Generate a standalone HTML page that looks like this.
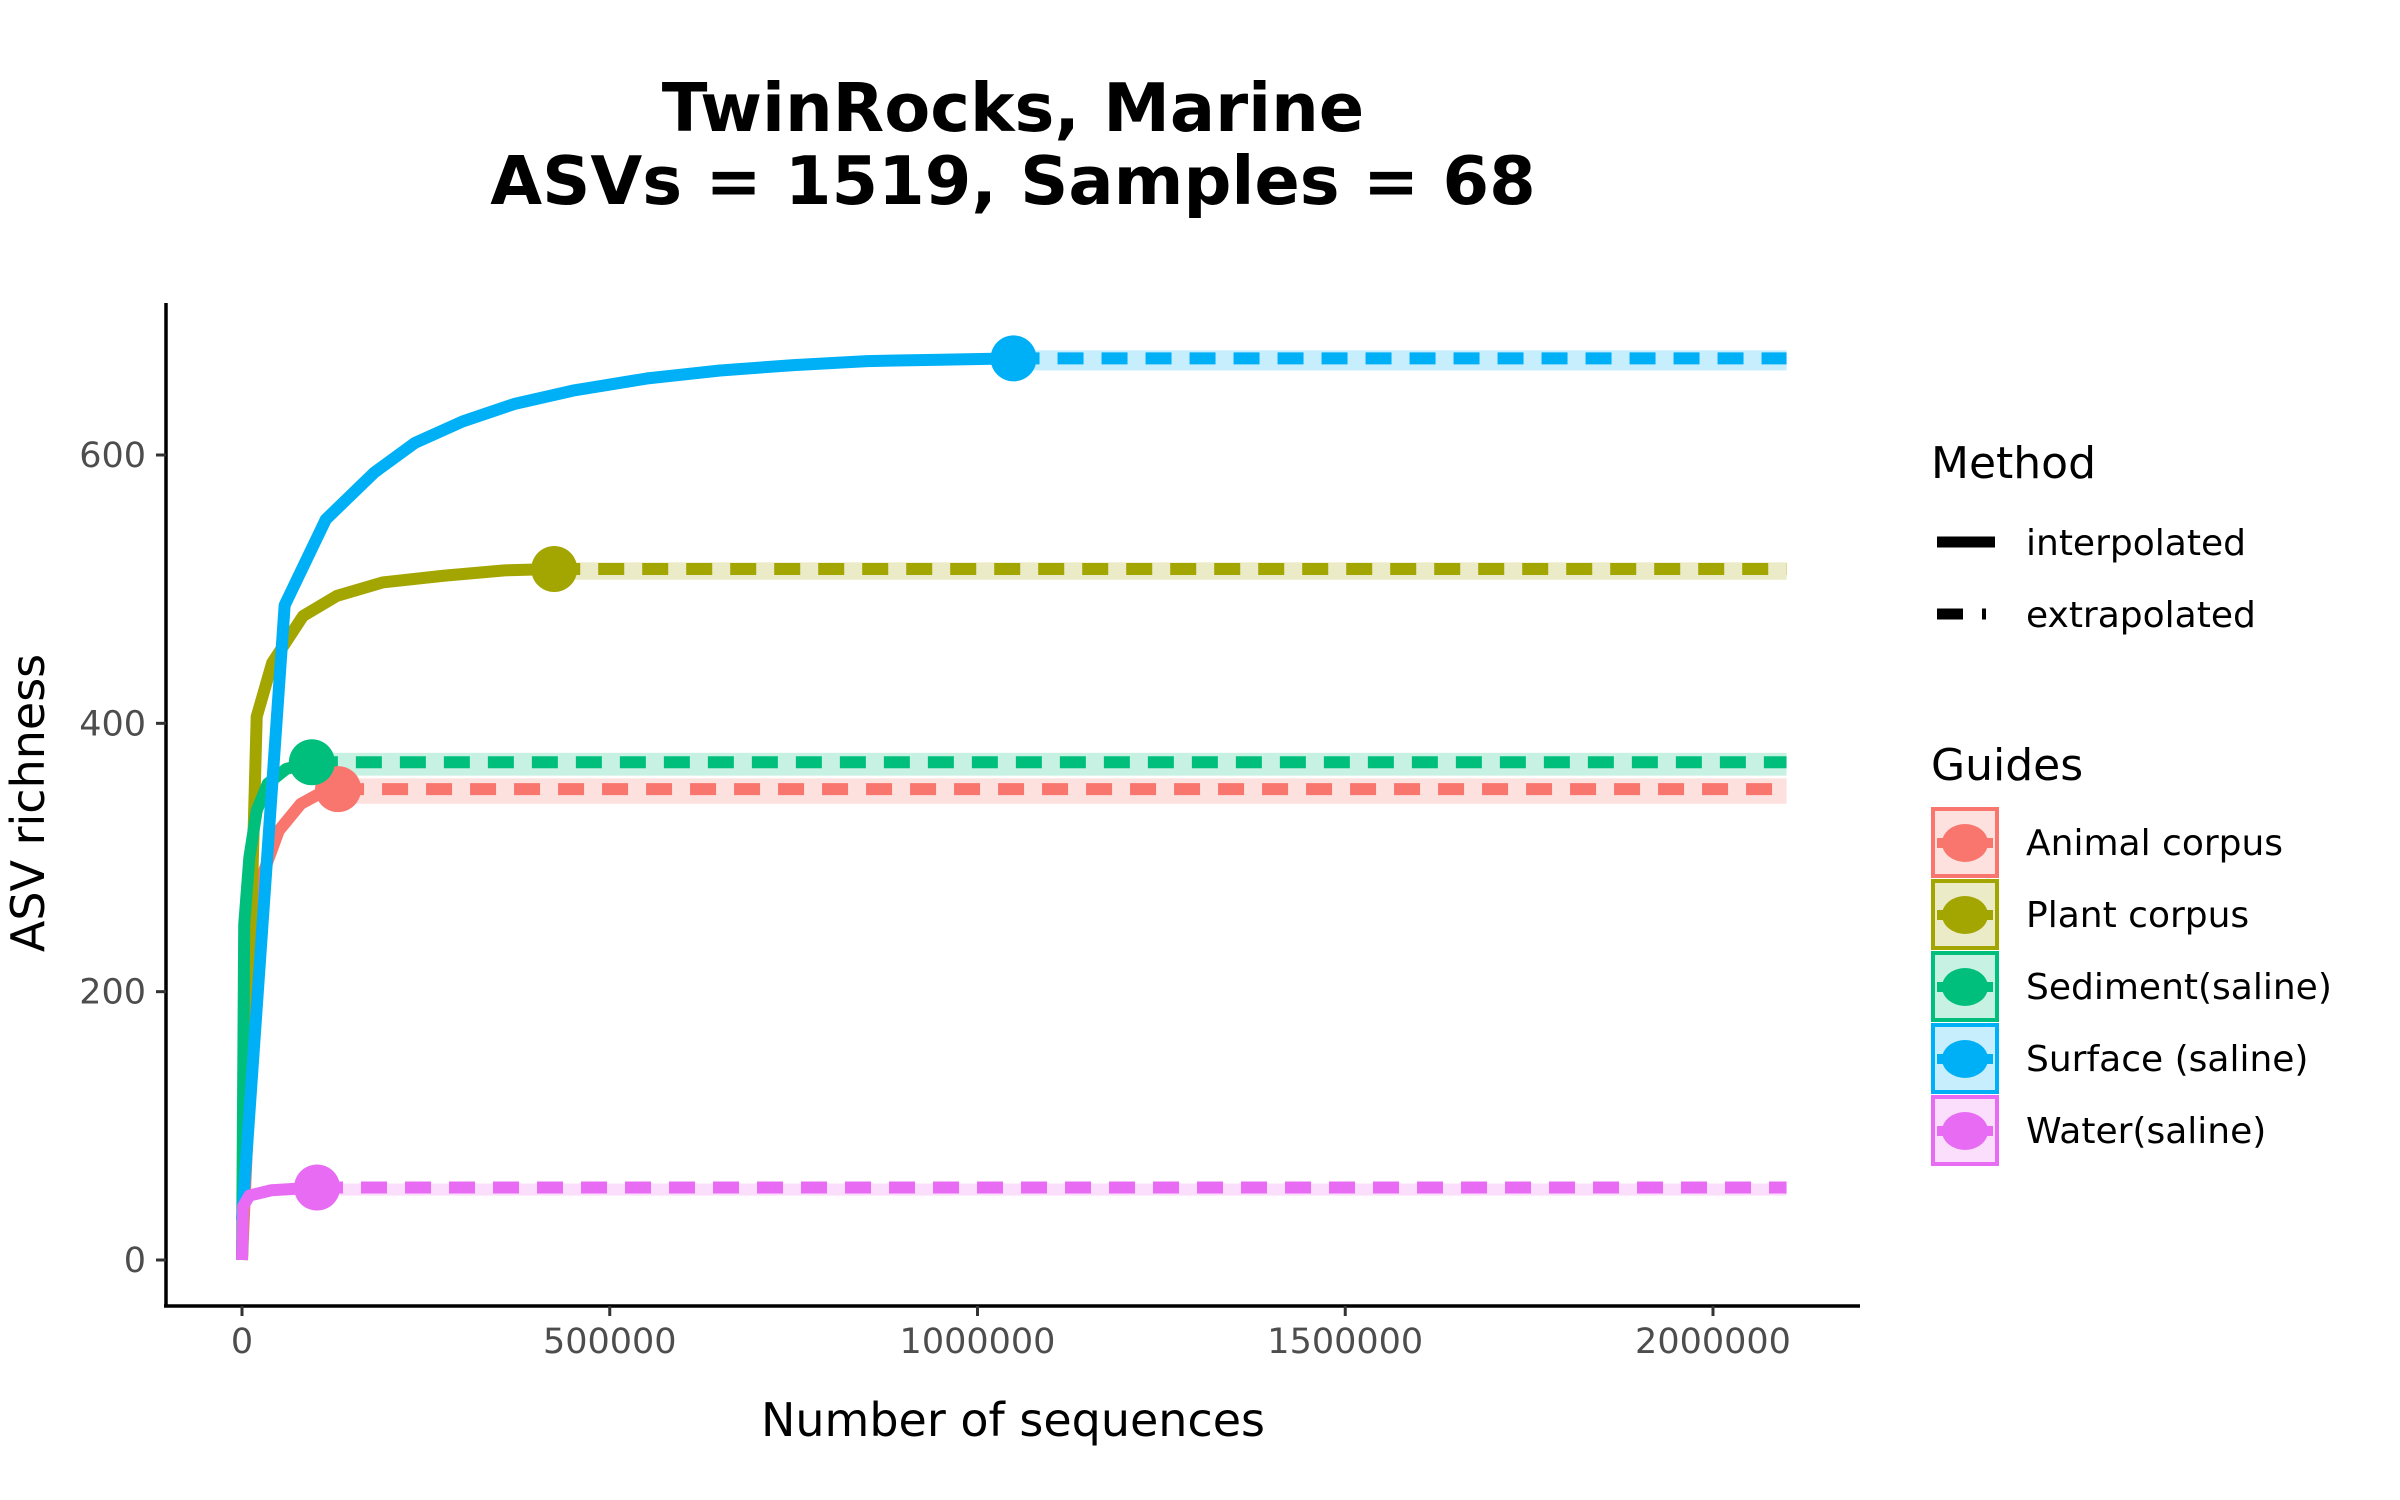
<!DOCTYPE html>
<html><head><meta charset="utf-8"><style>
html,body{margin:0;padding:0;background:#fff;}
svg{display:block;font-family:"DejaVu Sans","Liberation Sans",sans-serif;}
</style></head><body>
<svg id="chart" width="2400" height="1500" viewBox="0 0 2400 1500" xmlns="http://www.w3.org/2000/svg">
<rect width="2400" height="1500" fill="#fff"/>
<text x="1013" y="131" text-anchor="middle" font-weight="bold" font-size="67">TwinRocks, Marine</text>
<text x="1013" y="204" text-anchor="middle" font-weight="bold" font-size="67">ASVs = 1519, Samples = 68</text>
<g id="bands"></g>
<g id="lines"></g>
<g id="points"></g>
<g id="axes"></g>
<text x="1013" y="1436" text-anchor="middle" font-size="46">Number of sequences</text>
<text transform="translate(44,803) rotate(-90)" text-anchor="middle" font-size="46">ASV richness</text>
<g>
<text x="1931" y="478" font-size="44">Method</text>
<line x1="1937" y1="542" x2="1995" y2="542" stroke="#000" stroke-width="11"/>
<text x="2026" y="555" font-size="36">interpolated</text>
<line x1="1937" y1="614" x2="1963" y2="614" stroke="#000" stroke-width="11"/>
<line x1="1982" y1="614" x2="1986" y2="614" stroke="#000" stroke-width="11"/>
<text x="2026" y="627" font-size="36">extrapolated</text>
</g>
<g id="guides">
<text x="1931" y="780" font-size="44">Guides</text>
</g>
</svg>
<script>
const seriesNames = ["Animal corpus","Plant corpus","Sediment(saline)","Surface (saline)","Water(saline)"];
const seriesColors = ["#F8766D","#A3A500","#00BF7D","#00B0F6","#E76BF3"];
const xTicks = [0,500000,1000000,1500000,2000000];
const yTicks = [0,200,400,600];
const extrapEnd = 2100000;
const animalX = [0,20000,30000,50000,80000,110000,130600];
const animalY = [0,250,290,320,340,349,351];
const plantX = [0,20000,41000,83000,129000,191000,274000,357000,424500];
const plantY = [0,405,445,480,495,505,510,514,515];
const sedimentX = [0,3000,10000,20000,35000,60000,95000];
const sedimentY = [0,250,300,335,355,366,371];
const surfaceX = [0,58000,114000,180000,235000,300000,370000,450000,550000,650000,750000,850000,950000,1049000];
const surfaceY = [30,488,552,587,609,625,638,648,657,663,667,670,671,672];
const waterX = [0,1500,10000,40000,102000];
const waterY = [0,40,48,52,54];
const bandHalf = [8,5,7,6,3];

const NS="http://www.w3.org/2000/svg";
const xs = v => 242 + v*(1471/2000000);
const ys = v => 1260 - v*(805/600);
function mk(tag, attrs, parent){const e=document.createElementNS(NS,tag);for(const k in attrs)e.setAttribute(k,attrs[k]);parent.appendChild(e);return e;}
const allX=[animalX,plantX,sedimentX,surfaceX,waterX], allY=[animalY,plantY,sedimentY,surfaceY,waterY];
const bands=document.getElementById('bands'),lines=document.getElementById('lines'),pts=document.getElementById('points'),axes=document.getElementById('axes'),guides=document.getElementById('guides');
const slug=s=>s.toLowerCase().replace(/[^a-z]+/g,'-').replace(/-+$/,'');
for(let i=0;i<5;i++){
  const X=allX[i],Y=allY[i],c=seriesColors[i],n=X.length-1,last=Y[n];
  const b=mk('rect',{x:xs(X[n]),y:ys(last+bandHalf[i]),width:xs(extrapEnd)-xs(X[n]),height:ys(last-bandHalf[i])-ys(last+bandHalf[i])+4,fill:c,'fill-opacity':0.22},bands);
  
  
  const p=mk('polyline',{points:X.map((x,j)=>xs(x)+','+ys(Y[j])).join(' '),fill:'none',stroke:c,'stroke-width':12,'stroke-linejoin':'round'},lines);
  
  
  const d=mk('line',{x1:xs(X[n]),y1:ys(last),x2:xs(extrapEnd),y2:ys(last),stroke:c,'stroke-width':12,'stroke-dasharray':'26 18'},lines);
  
  
  const o=mk('circle',{cx:xs(X[n]),cy:ys(last),r:23,fill:c},pts);
  
  
  const gy=809+i*72;
  const g=mk('g',{},guides);
  
  
  mk('rect',{x:1933,y:gy,width:64,height:67,fill:c,'fill-opacity':0.22,stroke:c,'stroke-width':4},g);
  mk('line',{x1:1937,y1:gy+34,x2:1993,y2:gy+34,stroke:c,'stroke-width':10},g);
  mk('ellipse',{cx:1965,cy:gy+34,rx:23,ry:19,fill:c},g);
  const t=mk('text',{x:2026,y:gy+46,'font-size':36},g);t.textContent=seriesNames[i];
}
const ya=mk('line',{x1:166,y1:303,x2:166,y2:1306,stroke:'#000','stroke-width':3.5},axes);


const xa=mk('line',{x1:164,y1:1306,x2:1860,y2:1306,stroke:'#000','stroke-width':3.5},axes);


xTicks.forEach(v=>{
  mk('line',{x1:xs(v),y1:1306,x2:xs(v),y2:1316,stroke:'#333','stroke-width':3},axes);
  const t=mk('text',{x:xs(v),y:1353,'text-anchor':'middle','font-size':35,fill:'#4d4d4d'},axes);
  
  
  t.textContent=v;
});
yTicks.forEach(v=>{
  mk('line',{x1:156,y1:ys(v),x2:166,y2:ys(v),stroke:'#333','stroke-width':3},axes);
  const t=mk('text',{x:146,y:ys(v)+12,'text-anchor':'end','font-size':35,fill:'#4d4d4d'},axes);
  
  
  t.textContent=v;
});
</script>
</body></html>
